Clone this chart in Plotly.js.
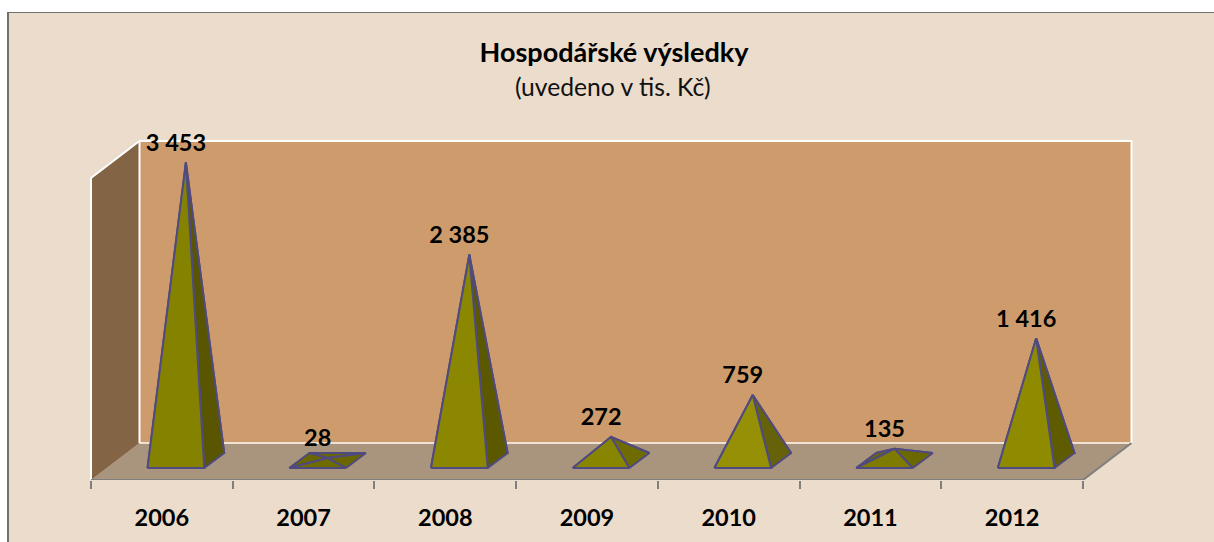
<!DOCTYPE html>
<html>
<head>
<meta charset="utf-8">
<script src="https://cdn.plot.ly/plotly-3.0.1.min.js"></script>
<style>
html,body{margin:0;padding:0;background:#fff;overflow:hidden}
#frame{position:absolute;left:7px;top:12px;width:1205px;height:529px;border-left:2px solid #707070;border-top:1px solid #707070;background:#ECDCCB}
#chart{width:1205px;height:529px}
</style>
</head>
<body>
<div id="frame"><div id="chart"></div></div>
<script>
const categories = ["2006","2007","2008","2009","2010","2011","2012"];
const values = [3453,28,2385,272,759,135,1416];
const valueLabels = ["3 453","28","2 385","272","759","135","1 416"];
const frontColors = ["#858200","#6E6B00","#8B8700","#888500","#969006","#7E7B00","#8E8B00"];
const sideColors = ["#5A5500","#6A6600","#5C5800","#6F6B00","#66620A","#6C6800","#5F5B00"];
const axisMax = 3500;

// oblique projection offsets, in axis units (category steps / value units)
const depthX = 0.3422, depthY = 428.8;
const halfW = 0.2, frontX = 0.099, frontY = 139, backX = 0.24, backY = 313;
const apexX = (frontX + backX) / 2, apexY = (frontY + backY) / 2;
const labelDx = -0.07, labelDy = 205;
const outline = "#4F4A80";

const n = categories.length;
const L = -0.5, R = n - 0.5;
const traces = [];
function poly(xs, ys, fill, lineColor, lineWidth) {
  traces.push({
    type: "scatter", x: xs, y: ys, mode: lineColor ? "lines" : "none",
    fill: fill ? "toself" : "none", fillcolor: fill || undefined,
    line: lineColor ? {color: lineColor, width: lineWidth, simplify: false} : undefined,
    hoverinfo: "skip", showlegend: false, cliponaxis: false
  });
}
// floor, side wall, back wall
poly([L, R, R + depthX, L + depthX, L], [0, 0, depthY, depthY, 0], "#A9947E");
poly([L, L + depthX, L + depthX, L, L], [0, depthY, depthY + axisMax, axisMax, 0], "#836545");
poly([L + depthX, R + depthX, R + depthX, L + depthX, L + depthX],
     [depthY, depthY, depthY + axisMax, depthY + axisMax, depthY], "#CE9C6C");
// wall edges
poly([L + depthX, R + depthX], [depthY, depthY], null, "#EFE2D4", 2);
poly([L, L, L + depthX, R + depthX, R + depthX],
     [0, axisMax, depthY + axisMax, depthY + axisMax, depthY], null, "#FFFFFF", 2);
poly([L + depthX, L + depthX], [depthY, depthY + axisMax], null, "#FFFFFF", 2);
// floor outer edge and category axis line
poly([R, R + depthX], [0, depthY], null, "#7F7F7F", 2);
poly([L, R], [0, 0], null, "#7F7F7F", 2);

// pyramids
values.forEach((v, i) => {
  const fl = [i - halfW + frontX, frontY], fr = [i + halfW + frontX, frontY];
  const bl = [i - halfW + backX, backY], br = [i + halfW + backX, backY];
  const ap = [i + apexX, apexY + v];
  const faces = [
    [[bl, br, ap], sideColors[i]],
    [[fl, bl, ap], sideColors[i]],
    [[fr, br, ap], sideColors[i]],
    [[fl, fr, ap], frontColors[i]]
  ];
  faces.forEach(([pts, c]) => {
    const closed = pts.concat([pts[0]]);
    poly(closed.map(p => p[0]), closed.map(p => p[1]), c, outline, 2);
  });
});

// value labels
traces.push({
  type: "scatter", mode: "text",
  x: values.map((v, i) => i + apexX + labelDx),
  y: values.map(v => apexY + v + labelDy),
  text: valueLabels, textposition: "middle center",
  textfont: {family: "Lato, 'Open Sans', sans-serif", size: 23.5, color: "#000", weight: 700},
  hoverinfo: "skip", showlegend: false, cliponaxis: false
});

const boundaries = [];
for (let k = 0; k <= n; k++) boundaries.push(k - 0.5);

const W = 1205, H = 529;
const pxPerCat = 992 / n;
const c0 = 91 + pxPerCat / 2;            // page x of the first category
const pxPerVal = 302 / axisMax;

const layout = {
  width: W, height: H,
  margin: {l: 0, r: 0, t: 0, b: 62, pad: 0},
  paper_bgcolor: "rgba(0,0,0,0)", plot_bgcolor: "rgba(0,0,0,0)",
  showlegend: false,
  title: {
    text: "<b>Hospodářské výsledky</b>",
    font: {family: "Lato, 'Open Sans', sans-serif", size: 27, color: "#000"},
    x: (614 - 9) / W, xanchor: "center", y: 1 - (53 - 13) / H, yanchor: "middle"
  },
  annotations: [{
    text: "(uvedeno v tis. Kč)", xref: "paper", yref: "paper",
    x: (613 - 9) / (W), xanchor: "center",
    y: 1 - (87 - 13) / (H - 62), yanchor: "middle",
    showarrow: false,
    font: {family: "Lato, 'Open Sans', sans-serif", size: 24.7, color: "#111"}
  }],
  xaxis: {
    range: [(9 - c0) / pxPerCat, (9 + W - c0) / pxPerCat],
    tickmode: "array", tickvals: categories.map((c, i) => i), ticktext: categories,
    ticks: "", showgrid: false, zeroline: false, showline: false,
    tickfont: {family: "Lato, 'Open Sans', sans-serif", size: 23.5, color: "#000", weight: 700},
    ticklabelstandoff: 21,
    minor: {tickmode: "array", tickvals: boundaries, ticks: "outside", ticklen: 8, tickwidth: 2, tickcolor: "#7F7F7F", showgrid: false}
  },
  yaxis: {
    range: [0, (480 - 13) / pxPerVal], visible: false, fixedrange: true
  }
};
Plotly.newPlot("chart", traces, layout, {displayModeBar: false, staticPlot: true});
</script>
</body>
</html>
